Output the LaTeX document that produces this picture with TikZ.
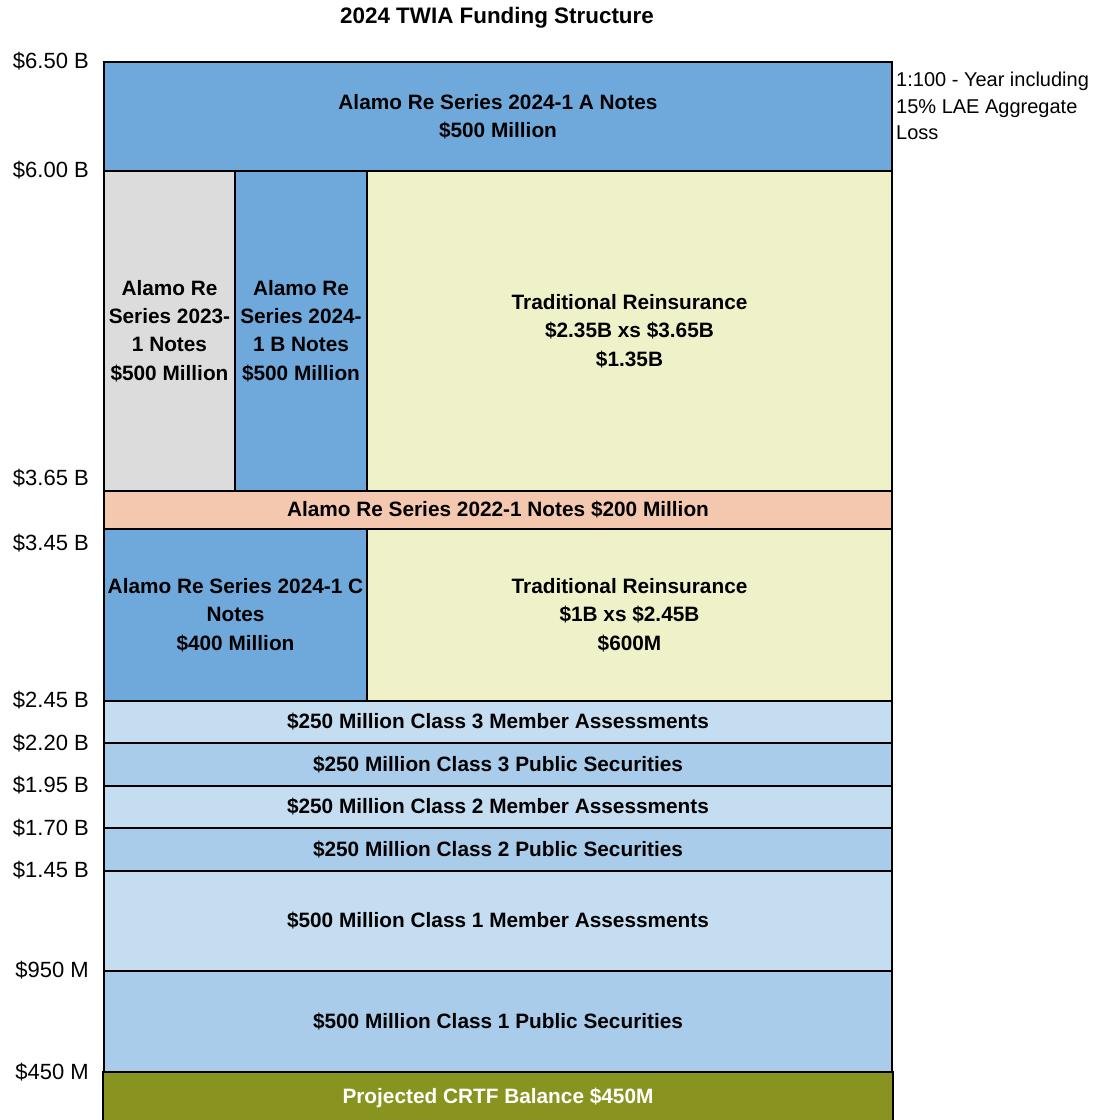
\documentclass[tikz,border=0pt]{standalone}
\usepackage{fontspec}
\setmainfont{Liberation Sans}
\definecolor{blueA}{RGB}{111,169,220}
\definecolor{grayB}{RGB}{220,220,220}
\definecolor{yellowC}{RGB}{239,242,201}
\definecolor{peachD}{RGB}{244,200,174}
\definecolor{lightE}{RGB}{197,221,241}
\definecolor{midF}{RGB}{169,204,234}
\definecolor{oliveG}{RGB}{137,148,32}
\tikzset{
  blk/.style={draw=black, line width=2pt, inner sep=0pt, anchor=north west, align=center,
    font=\fontsize{20.8}{28.3}\selectfont\bfseries},
  axlab/.style={anchor=east, inner sep=0pt, font=\fontsize{22}{26}\selectfont},
}
\begin{document}
\begin{tikzpicture}[x=1pt,y=-1pt]
\useasboundingbox (0,0) rectangle (1097,1120);
\node[font=\fontsize{22.4}{26}\selectfont\bfseries] (title) at (497,18) {2024 TWIA Funding Structure};

\node[blk, fill=blueA, minimum width=788pt, minimum height=109pt] (a) at (103,61)
  {Alamo Re Series 2024-1 A Notes\\\$500 Million};
\node[blk, fill=grayB, minimum width=131pt, minimum height=320pt] (s2023) at (103,170)
  {Alamo Re\\Series 2023-\\1 Notes\\\$500 Million};
\node[blk, fill=blueA, minimum width=132pt, minimum height=320pt] (s2024b) at (234,170)
  {Alamo Re\\Series 2024-\\1 B Notes\\\$500 Million};
\node[blk, fill=yellowC, minimum width=525pt, minimum height=320pt] (trad1) at (366,170)
  {Traditional Reinsurance\\\$2.35B xs \$3.65B\\\$1.35B};
\node[blk, fill=peachD, minimum width=788pt, minimum height=38pt] (s2022) at (103,490)
  {Alamo Re Series 2022-1 Notes \$200 Million};
\node[blk, fill=blueA, minimum width=263pt, minimum height=172pt] (c) at (103,528)
  {Alamo Re Series 2024-1 C\\Notes\\\$400 Million};
\node[blk, fill=yellowC, minimum width=525pt, minimum height=172pt] (trad2) at (366,528)
  {Traditional Reinsurance\\\$1B xs \$2.45B\\\$600M};
\node[blk, fill=lightE, minimum width=788pt, minimum height=42pt] (c3m) at (103,700)
  {\$250 Million Class 3 Member Assessments};
\node[blk, fill=midF, minimum width=788pt, minimum height=43pt] (c3p) at (103,742)
  {\$250 Million Class 3 Public Securities};
\node[blk, fill=lightE, minimum width=788pt, minimum height=42pt] (c2m) at (103,785)
  {\$250 Million Class 2 Member Assessments};
\node[blk, fill=midF, minimum width=788pt, minimum height=43pt] (c2p) at (103,827)
  {\$250 Million Class 2 Public Securities};
\node[blk, fill=lightE, minimum width=788pt, minimum height=100pt] (c1m) at (103,870)
  {\$500 Million Class 1 Member Assessments};
\node[blk, fill=midF, minimum width=788pt, minimum height=102pt] (c1p) at (103,970)
  {\$500 Million Class 1 Public Securities};
\node[blk, draw=none, fill=oliveG, text=white, minimum width=788pt, minimum height=50pt] (crtf) at (103,1072)
  {Projected CRTF Balance \$450M};
\draw[line width=2pt] (crtf.south west) -- (crtf.north west) -- (crtf.north east) -- (crtf.south east);

\node[axlab] (l650) at (89,61) {\$6.50 B};
\node[axlab] (l600) at (89,170) {\$6.00 B};
\node[axlab] (l365) at (89,478) {\$3.65 B};
\node[axlab] (l345) at (89,543) {\$3.45 B};
\node[axlab] (l245) at (89,700) {\$2.45 B};
\node[axlab] (l220) at (89,743) {\$2.20 B};
\node[axlab] (l195) at (89,785) {\$1.95 B};
\node[axlab] (l170) at (89,828) {\$1.70 B};
\node[axlab] (l145) at (89,870) {\$1.45 B};
\node[axlab] (l950) at (89,970) {\$950 M};
\node[axlab] (l450) at (89,1072) {\$450 M};

\node[anchor=north west, inner sep=0pt, align=left, font=\fontsize{20}{26.5}\selectfont] (note) at (896,72)
  {1:100 - Year including\\15\% LAE Aggregate\\Loss};
\end{tikzpicture}
\end{document}
